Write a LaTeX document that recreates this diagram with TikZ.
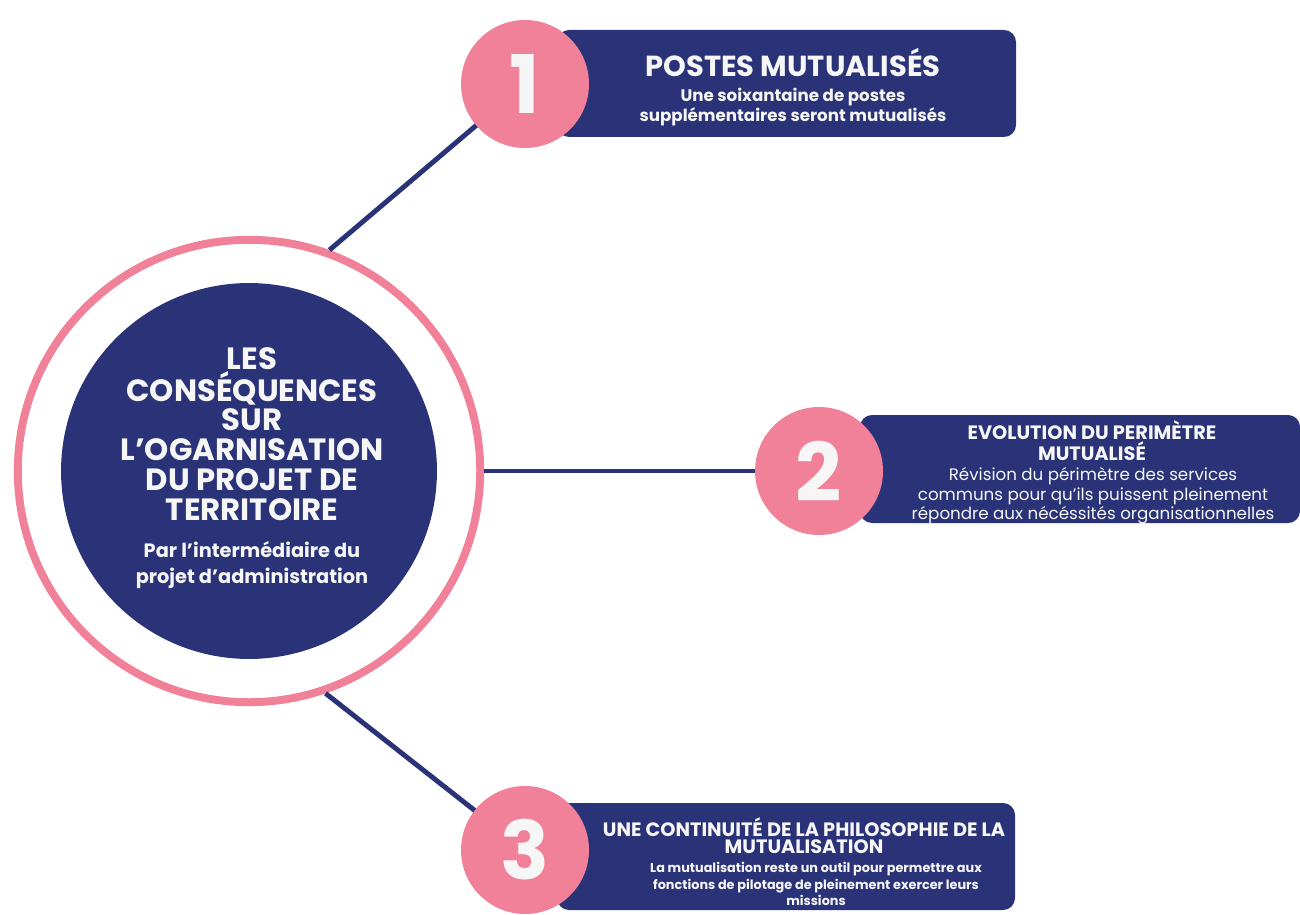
\documentclass[tikz,border=0pt]{standalone}
\usepackage{fontspec}
\setmainfont{Poppins}
\definecolor{marine}{HTML}{2B3378}
\definecolor{rose}{HTML}{F08199}
\definecolor{blanc}{HTML}{F6F6F6}
\begin{document}
\begin{tikzpicture}[x=0.02cm,y=-0.02cm,
  lien/.style={draw=marine,line width=2.8pt},
  pastille/.style={circle,fill=rose,minimum size=2.56cm,inner sep=0pt,
    text=blanc,font=\fontsize{46}{46}\selectfont\bfseries},
  cadre/.style={fill=marine,rounded corners=0.24cm},
  titre/.style={text=blanc,align=center,inner sep=0pt},
  texte/.style={text=blanc,align=center,inner sep=0pt}]
\useasboundingbox (0,0) rectangle (1300,915);

\node[circle,draw=rose,line width=4.5pt,minimum size=9.25cm,inner sep=0pt] (anneau) at (249,471) {};
\node[circle,fill=marine,minimum size=7.52cm,inner sep=0pt] (coeur) at (249,471) {};

\coordinate (p1) at (525,84);
\coordinate (p2) at (819,471);
\coordinate (p3) at (525,850);

\draw[lien] (anneau.70) -- (p1);
\draw[lien] (anneau.east) -- (p2);
\draw[lien] (anneau.-71) -- (p3);

\fill[cadre] (557,30) rectangle (1016,137);
\fill[cadre] (860,415) rectangle (1300,523);
\fill[cadre] (557,803) rectangle (1015,910);

\node[pastille] (n1) at (p1) {1};
\node[pastille] (n2) at (p2) {2};
\node[pastille] (n3) at (p3) {3};

\node[titre,font=\fontsize{17.5}{17}\selectfont\bfseries] (t0) at (252,434)
  {LES\\CONSÉQUENCES\\SUR\\L’OGARNISATION\\DU PROJET DE\\TERRITOIRE};
\node[texte,font=\fontsize{11}{14.7}\selectfont\bfseries] (b0) at (252,565)
  {Par l’intermédiaire du\\projet d’administration};

\node[titre,font=\fontsize{16.5}{16}\selectfont\bfseries] (t1) at (793,62) {POSTES MUTUALISÉS};
\node[texte,font=\fontsize{9.5}{11.3}\selectfont\bfseries] (b1) at (793,107)
  {Une soixantaine de postes\\supplémentaires seront mutualisés};

\node[titre,font=\fontsize{11}{10}\selectfont\bfseries] (t2) at (1092,441)
  {EVOLUTION DU PERIMÈTRE\\MUTUALISÉ};
\node[texte,font=\fontsize{9.5}{11.2}\selectfont] (b2) at (1093,496)
  {Révision du périmètre des services\\communs pour qu’ils puissent pleinement\\répondre aux nécéssités organisationnelles};

\node[titre,font=\fontsize{11}{9.6}\selectfont\bfseries] (t3) at (804,836)
  {UNE CONTINUITÉ DE LA PHILOSOPHIE DE LA\\MUTUALISATION};
\node[texte,font=\fontsize{7.3}{9.6}\selectfont\bfseries] (b3) at (816,884)
  {La mutualisation reste un outil pour permettre aux\\fonctions de pilotage de pleinement exercer leurs\\missions};
\end{tikzpicture}
\end{document}
